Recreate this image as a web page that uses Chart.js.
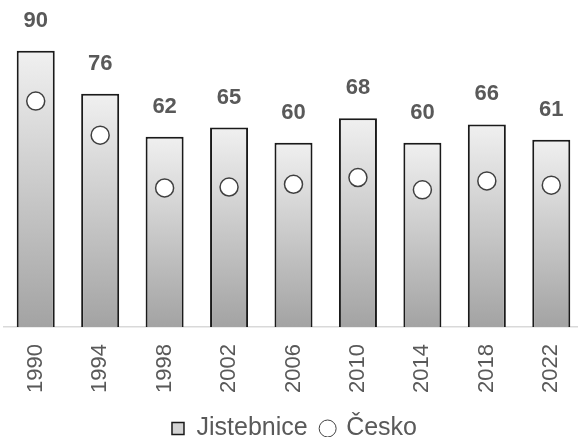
<!DOCTYPE html>
<html>
<head>
<meta charset="utf-8">
<script src="https://cdn.jsdelivr.net/npm/chart.js@4"></script>
<style>
  html, body { margin: 0; padding: 0; background: #fff; overflow: hidden; }
  #wrap { width: 601px; height: 451px; margin-left: -7px; }
</style>
</head>
<body>
<div id="wrap"><canvas id="chart"></canvas></div>
<script>
// ============================
// Données
// ============================

const roky = ["1990", "1994", "1998", "2002", "2006", "2010", "2014", "2018", "2022"];
const jistebnice = [90, 76, 62, 65, 60, 68, 60, 66, 61];
const cesko = [73.6, 62.5, 45.3, 45.6, 46.5, 48.7, 44.7, 47.6, 46.2];

const textColor = "#595959";

// dégradé par barre (clair en haut, gris en bas)
function barGradient(ctx) {
  const chart = ctx.chart;
  if (!chart.chartArea || ctx.parsed == null) return "#d0d0d0";
  const y = chart.scales.y;
  const top = y.getPixelForValue(ctx.parsed.y);
  const bottom = y.getPixelForValue(0);
  const g = chart.ctx.createLinearGradient(0, top, 0, bottom);
  g.addColorStop(0, "#f0f0f0");
  g.addColorStop(1, "#a3a3a3");
  return g;
}

// ============================
// Étiquettes au-dessus des barres
// ============================

const barLabels = {
  id: "barLabels",
  afterDatasetsDraw(chart) {
    const meta = chart.getDatasetMeta(0);
    const c = chart.ctx;
    c.save();
    c.font = "bold 22px 'Liberation Sans', Arial, sans-serif";
    c.fillStyle = textColor;
    c.textAlign = "center";
    c.textBaseline = "middle";
    meta.data.forEach((bar, i) => {
      c.fillText(jistebnice[i], bar.x, bar.y - 30);
    });
    c.restore();
  }
};

// ============================
// Graphique
// ============================

new Chart(document.getElementById("chart"), {
  data: {
    labels: roky,
    datasets: [
      {
        type: "bar",
        label: "Jistebnice",
        data: jistebnice,
        backgroundColor: barGradient,
        borderColor: "#1a1a1a",
        borderWidth: 2,
        barPercentage: 0.59,
        categoryPercentage: 1,
        order: 1
      },
      {
        type: "line",
        label: "Česko",
        data: cesko,
        showLine: false,
        pointRadius: 9,
        pointHoverRadius: 9,
        pointBackgroundColor: "#ffffff",
        pointBorderColor: "#404040",
        pointBorderWidth: 1.5,
        backgroundColor: "#ffffff",
        borderColor: "#404040",
        borderWidth: 1,
        order: 0
      }
    ]
  },
  options: {
    responsive: true,
    maintainAspectRatio: false,
    animation: false,
    layout: { padding: { top: 20, left: 3, right: 1, bottom: 0 } },
    scales: {
      x: {
        grid: { display: false },
        border: { color: "#d9d9d9", width: 1.5 },
        ticks: {
          color: textColor,
          font: { family: "'Liberation Sans', Arial, sans-serif", size: 22 },
          minRotation: 90,
          maxRotation: 90,
          padding: 9
        },
        afterFit(scale) {
          scale.paddingLeft = 0;
          scale.paddingRight = 0;
        }
      },
      y: {
        display: false,
        min: 0,
        max: 100
      }
    },
    plugins: {
      tooltip: { enabled: false },
      legend: {
        position: "bottom",
        labels: {
          color: textColor,
          font: { family: "'Liberation Sans', Arial, sans-serif", size: 25 },
          usePointStyle: true,
          boxWidth: 12,
          boxHeight: 12,
          padding: 14,
          sort: (a, b) => a.datasetIndex - b.datasetIndex,
          generateLabels(chart) {
            const items = Chart.defaults.plugins.legend.labels.generateLabels(chart);
            items.forEach(it => {
              if (it.datasetIndex === 0) {
                it.pointStyle = "rect";
                it.fillStyle = "#d4d4d4";
                it.strokeStyle = "#1a1a1a";
                it.lineWidth = 1.5;
              } else {
                it.pointStyle = "circle";
                it.fillStyle = "#ffffff";
                it.strokeStyle = "#404040";
                it.lineWidth = 1;
              }
            });
            return items;
          }
        }
      }
    }
  },
  plugins: [barLabels]
});
</script>
</body>
</html>
